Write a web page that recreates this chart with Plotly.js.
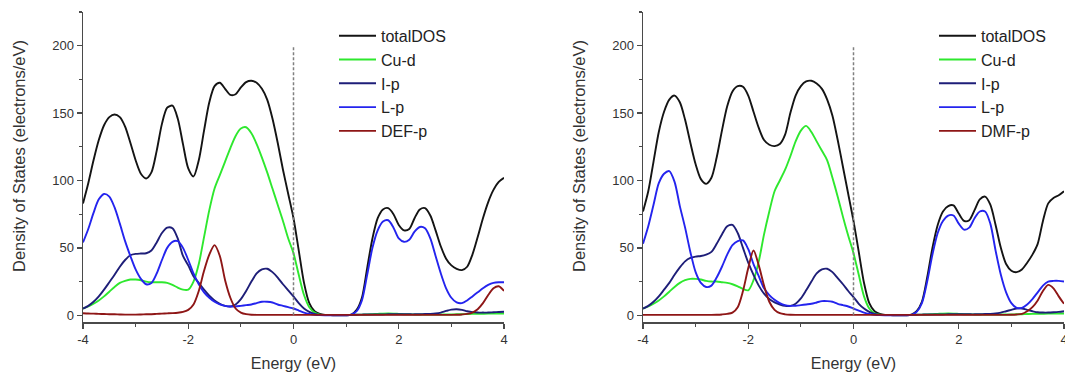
<!DOCTYPE html>
<html>
<head>
<meta charset="utf-8">
<script src="https://cdn.plot.ly/plotly-3.0.1.min.js"></script>
<style>
  html, body { margin: 0; padding: 0; background: #ffffff; }
  #chart { width: 1065px; height: 376px; }
</style>
</head>
<body>
<div id="chart"></div>
<script>
// Energy grid (eV), shared by every projected-DOS curve
const energy = [
  -4.0, -3.9, -3.8, -3.7, -3.6, -3.5, -3.4, -3.3, -3.2, -3.1,
  -3.0, -2.9, -2.8, -2.7, -2.6, -2.5, -2.4, -2.3, -2.2, -2.1,
  -2.0, -1.9, -1.8, -1.7, -1.6, -1.5, -1.4, -1.3, -1.2, -1.1,
  -1.0, -0.9, -0.8, -0.7, -0.6, -0.5, -0.4, -0.3, -0.2, -0.1,
   0.0,  0.1,  0.2,  0.3,  0.4,  0.5,  0.6,  0.7,  0.8,  0.9,
   1.0,  1.1,  1.2,  1.3,  1.4,  1.5,  1.6,  1.7,  1.8,  1.9,
   2.0,  2.1,  2.2,  2.3,  2.4,  2.5,  2.6,  2.7,  2.8,  2.9,
   3.0,  3.1,  3.2,  3.3,  3.4,  3.5,  3.6,  3.7,  3.8,  3.9,
   4.0
];

// ---- Left panel: DEF compound ----
const totalDosDEF = [
  83, 98, 115, 130, 141, 147, 149, 147, 140, 128,
  115, 105, 101.5, 106, 122, 142, 154, 155.5, 146, 127,
  109, 103, 115, 137, 158, 170, 172.5, 168, 163.5, 164,
  169, 173, 174, 172.5, 168, 160, 146, 128, 108, 90,
  72, 48, 24, 9, 3, 1, 0.3, 0.1, 0, 0,
  0, 0.5, 4, 13, 35, 57, 72, 78.5, 79.5, 75,
  67, 63, 64, 72, 78.5, 79.5, 74, 63, 51, 42,
  37, 34.5, 33.5, 36, 45, 58, 72, 84, 93, 99,
  102
];
const cuDDEF = [
  5, 6.5, 8.5, 11, 14, 17.5, 21, 24, 25.5, 26.5,
  26.5, 26, 25, 24.5, 24.5, 24.5, 24, 22.5, 20.5, 19,
  19, 25, 38, 58, 78, 94, 104, 114, 124, 133,
  138.5, 139.5, 135, 127, 117, 106, 94, 82, 70, 57,
  46, 30, 15, 6, 2, 0.5, 0.3, 0.3, 0.3, 0.3,
  0.3, 0.3, 0.4, 0.5, 0.6, 0.8, 1, 1.2, 1.3, 1.2,
  1, 0.8, 0.7, 0.6, 0.6, 0.6, 0.6, 0.6, 0.6, 0.6,
  0.6, 0.7, 0.8, 0.9, 1, 1, 1.1, 1.2, 1.2, 1.3,
  1.3
];
const iPDEF = [
  5, 7, 10, 14, 19, 24.5, 30, 36, 41, 44.5,
  45.5, 45.8, 46, 48, 54, 61, 65, 64.5, 57, 44,
  37, 29, 24, 19, 14.5, 11, 8.5, 7, 6.5, 8,
  12, 18, 25, 31, 34, 34.5, 32, 28, 23, 18.5,
  14, 9, 5, 2.5, 1, 0.3, 0.2, 0.2, 0.2, 0.2,
  0.2, 0.3, 0.4, 0.5, 0.6, 0.6, 0.6, 0.6, 0.7, 0.7,
  0.7, 0.7, 0.7, 0.7, 0.8, 0.9, 1.0, 1.3, 2, 3.2,
  4.2, 4.5, 4, 3, 2.3, 2, 2, 2, 2.2, 2.4,
  2.6
];
const lPDEF = [
  54, 64, 76, 86, 90, 88, 80, 68, 55, 44,
  34, 27, 23, 24, 31, 41, 50, 54.5, 55, 50,
  41, 31, 23, 17, 13, 10, 8, 7, 6.5, 6.5,
  7, 7.5, 8, 9, 10, 10, 9.5, 8, 7, 6,
  5, 3.5, 2, 1, 0.4, 0.1, 0, 0, 0, 0,
  0, 0.5, 3, 11, 30, 50, 63, 69.5, 70.5, 65,
  57, 54.5, 56, 62, 65.5, 64.5, 57, 44, 31, 20,
  13, 9.5, 9, 11, 14, 17, 20, 22.5, 24, 24.5,
  24.5
];
const solventPDEF = [
  1.5, 1.3, 1.2, 1.0, 0.9, 0.8, 0.7, 0.6, 0.5, 0.5,
  0.5, 0.6, 0.7, 0.8, 1, 1.2, 1.4, 1.6, 1.9, 2.5,
  4, 8, 18, 33, 45, 52, 44, 26, 13, 5,
  2, 0.8, 0.4, 0.3, 0.3, 0.3, 0.3, 0.3, 0.3, 0.3,
  0.3, 0.3, 0.3, 0.3, 0.3, 0.3, 0.3, 0.3, 0.3, 0.3,
  0.3, 0.3, 0.3, 0.3, 0.3, 0.3, 0.3, 0.3, 0.3, 0.3,
  0.3, 0.3, 0.3, 0.3, 0.3, 0.3, 0.3, 0.3, 0.3, 0.3,
  0.3, 0.4, 0.6, 1, 2, 4.5, 9, 15, 20, 21.5,
  18
];

// ---- Right panel: DMF compound ----
const totalDosDMF = [
  77, 92, 114, 136, 151, 160, 163, 158, 145, 128,
  112, 101, 97.5, 102, 117, 137, 155, 166, 170, 169.5,
  163, 151, 139, 130, 126.5, 125.5, 127, 134, 150, 163,
  170, 173.5, 174, 172, 168, 160, 148, 130, 110, 90,
  70, 47, 24, 9, 3, 1, 0.3, 0.1, 0, 0,
  0, 0.5, 3, 10, 28, 50, 67, 77, 81, 81.5,
  75.5, 70, 70.5, 78, 86, 88, 82, 67, 50, 38,
  33, 32, 34, 39, 45, 53, 70, 83, 87, 89,
  92
];
const cuDDMF = [
  5, 6.5, 8.5, 11, 14, 17.5, 21, 24, 26, 27,
  27, 26.5, 25.5, 25, 25, 24.5, 24, 23, 21.5, 19.5,
  18.5, 26, 40, 60, 77, 92, 100, 108, 118, 129,
  137, 140.5, 136, 129, 122, 115, 102, 88, 73, 59,
  46, 30, 14, 5, 1.5, 0.5, 0.3, 0.3, 0.3, 0.3,
  0.3, 0.3, 0.4, 0.5, 0.6, 0.8, 1, 1.2, 1.3, 1.2,
  1, 0.8, 0.7, 0.6, 0.6, 0.6, 0.6, 0.6, 0.6, 0.6,
  0.6, 0.7, 0.8, 0.9, 1, 1, 1.1, 1.2, 1.2, 1.3,
  1.3
];
const iPDMF = [
  5, 7, 10, 14, 19, 24, 30, 35.5, 40, 42.5,
  43.5, 44, 45, 47, 53, 60, 66, 67, 61, 50,
  39, 30, 22, 16, 12, 9.5, 8, 7, 7, 8.5,
  12.5, 18.5, 25, 31, 34, 34.5, 32, 27.5, 23, 18,
  13.5, 8.5, 5, 2.5, 1, 0.3, 0.2, 0.2, 0.2, 0.2,
  0.2, 0.3, 0.4, 0.5, 0.6, 0.6, 0.6, 0.6, 0.7, 0.7,
  0.7, 0.7, 0.7, 0.7, 0.8, 0.9, 1, 1.3, 2, 3,
  4, 5, 5, 4, 3, 2.2, 2, 2, 2.2, 2.5,
  3
];
const lPDMF = [
  53, 66, 82, 98, 105, 107, 99, 81, 65, 47,
  32, 24, 21, 22, 28, 36, 45, 52, 55, 55.5,
  49, 38, 29, 20, 15, 11.5, 9, 7.5, 7, 7,
  7.5, 8, 8.5, 9.5, 10.5, 10.5, 10, 8.5, 7.5, 6.5,
  5, 3.5, 2, 1, 0.4, 0.1, 0, 0, 0, 0,
  0, 0.3, 2.5, 9, 25, 45, 61, 70, 74, 74,
  68, 63.5, 65, 72, 77, 77, 68, 48, 30, 17,
  9, 5.5, 5.5, 8, 12, 17, 22, 25, 25.5, 25.5,
  25
];
const solventPDMF = [
  0.3, 0.3, 0.3, 0.3, 0.3, 0.3, 0.3, 0.3, 0.3, 0.3,
  0.3, 0.3, 0.3, 0.3, 0.4, 0.6, 1, 2, 6, 18,
  35, 48, 37, 22, 10, 4, 1.5, 0.7, 0.4, 0.3,
  0.3, 0.3, 0.3, 0.3, 0.3, 0.3, 0.3, 0.3, 0.3, 0.3,
  0.3, 0.3, 0.3, 0.3, 0.3, 0.3, 0.3, 0.3, 0.3, 0.3,
  0.3, 0.3, 0.3, 0.3, 0.3, 0.3, 0.3, 0.3, 0.3, 0.3,
  0.3, 0.3, 0.3, 0.3, 0.3, 0.3, 0.3, 0.3, 0.3, 0.3,
  0.4, 0.6, 1, 3, 6, 11, 18, 22.5, 20, 14,
  8.5
];

// Series names, axis titles and tick labels
const namesDEF = ['totalDOS', 'Cu-d', 'I-p', 'L-p', 'DEF-p'];
const namesDMF = ['totalDOS', 'Cu-d', 'I-p', 'L-p', 'DMF-p'];
const xTitle = 'Energy (eV)';
const yTitle = 'Density of States (electrons/eV)';
const xTickVals = [-4, -2, 0, 2, 4];
const xTickText = ['-4', '-2', '0', '2', '4'];
const xMinorVals = [-3, -1, 1, 3];
const yTickVals = [0, 50, 100, 150, 200];
const yTickText = ['0', '50', '100', '150', '200'];
const yMinorVals = [25, 75, 125, 175, 225];

const colors = ['#141414', '#2ee82e', '#1e1e78', '#2424ee', '#8e1616'];

function makeTraces(seriesList, names, xa, ya, legendId) {
  return seriesList.map((vals, i) => ({
    type: 'scatter',
    mode: 'lines',
    x: energy,
    y: vals,
    name: names[i],
    xaxis: xa,
    yaxis: ya,
    legend: legendId,
    line: { color: colors[i], width: 1.9, shape: 'spline', smoothing: 0.8 },
    hoverinfo: 'x+y+name'
  }));
}

const traces = [].concat(
  makeTraces([totalDosDEF, cuDDEF, iPDEF, lPDEF, solventPDEF], namesDEF, 'x', 'y', 'legend'),
  makeTraces([totalDosDMF, cuDDMF, iPDMF, lPDMF, solventPDMF], namesDMF, 'x2', 'y2', 'legend2')
);

const W = 1065;
const H = 376;
const M = { l: 0, r: 0, t: 12, b: 54 };
const plotH = H - M.t - M.b;
const axisColor = '#4a4a4a';
const textColor = '#333';

function xAxis(domain, anchor) {
  return {
    domain: domain, anchor: anchor, range: [-4, 4],
    tickmode: 'array', tickvals: xTickVals, ticktext: xTickText,
    ticks: 'outside', ticklen: 5, tickwidth: 1.3, tickcolor: axisColor,
    minor: { tickmode: 'array', tickvals: xMinorVals, ticks: 'outside', ticklen: 3, tickwidth: 1.2, tickcolor: axisColor },
    showline: true, linecolor: axisColor, linewidth: 1.5,
    showgrid: false, zeroline: false,
    ticklabeloverflow: 'allow',
    tickfont: { size: 13, color: textColor },
    title: { text: xTitle, font: { size: 16, color: textColor }, standoff: 11 }
  };
}
function yAxis(anchor) {
  return {
    domain: [0, 1], anchor: anchor, range: [-5, 225],
    tickmode: 'array', tickvals: yTickVals, ticktext: yTickText,
    ticks: 'outside', ticklen: 5, tickwidth: 1.3, tickcolor: axisColor,
    minor: { tickmode: 'array', tickvals: yMinorVals, ticks: 'outside', ticklen: 3, tickwidth: 1.2, tickcolor: axisColor },
    showline: true, linecolor: axisColor, linewidth: 1.5,
    showgrid: false, zeroline: false,
    tickfont: { size: 13, color: textColor }
  };
}

// Vertical axis titles, placed a little above the plot-area centre
function yTitleAnnotation(xPix) {
  return {
    text: yTitle, xref: 'paper', yref: 'paper',
    x: xPix / W, y: (H - M.b - 156) / plotH,
    xanchor: 'center', yanchor: 'middle', textangle: -90,
    showarrow: false, font: { size: 16.5, color: textColor }
  };
}

const legendStyle = {
  orientation: 'v', xanchor: 'left', yanchor: 'top',
  bgcolor: 'rgba(0,0,0,0)', borderwidth: 0,
  font: { size: 16, color: '#222' },
  itemwidth: 37, tracegroupgap: 0
};

const layout = {
  width: W, height: H,
  margin: M,
  paper_bgcolor: '#ffffff', plot_bgcolor: '#ffffff',
  font: { family: '"Liberation Sans", Arial, sans-serif', color: textColor },
  showlegend: true,
  xaxis: xAxis([83 / W, 504 / W], 'y'),
  yaxis: yAxis('x'),
  xaxis2: xAxis([643 / W, 1064 / W], 'y2'),
  yaxis2: yAxis('x2'),
  legend: Object.assign({}, legendStyle, { x: 334 / W, y: 0.978 }),
  legend2: Object.assign({}, legendStyle, { x: 934 / W, y: 0.978 }),
  annotations: [yTitleAnnotation(19), yTitleAnnotation(579)],
  shapes: [
    { type: 'line', xref: 'x', yref: 'y', x0: 0, x1: 0, y0: 0, y1: 200,
      line: { color: '#808080', width: 1.5, dash: '3px,2px' } },
    { type: 'line', xref: 'x2', yref: 'y2', x0: 0, x1: 0, y0: 0, y1: 200,
      line: { color: '#808080', width: 1.5, dash: '3px,2px' } }
  ]
};

Plotly.newPlot('chart', traces, layout, { displayModeBar: false, staticPlot: true });
</script>
</body>
</html>
